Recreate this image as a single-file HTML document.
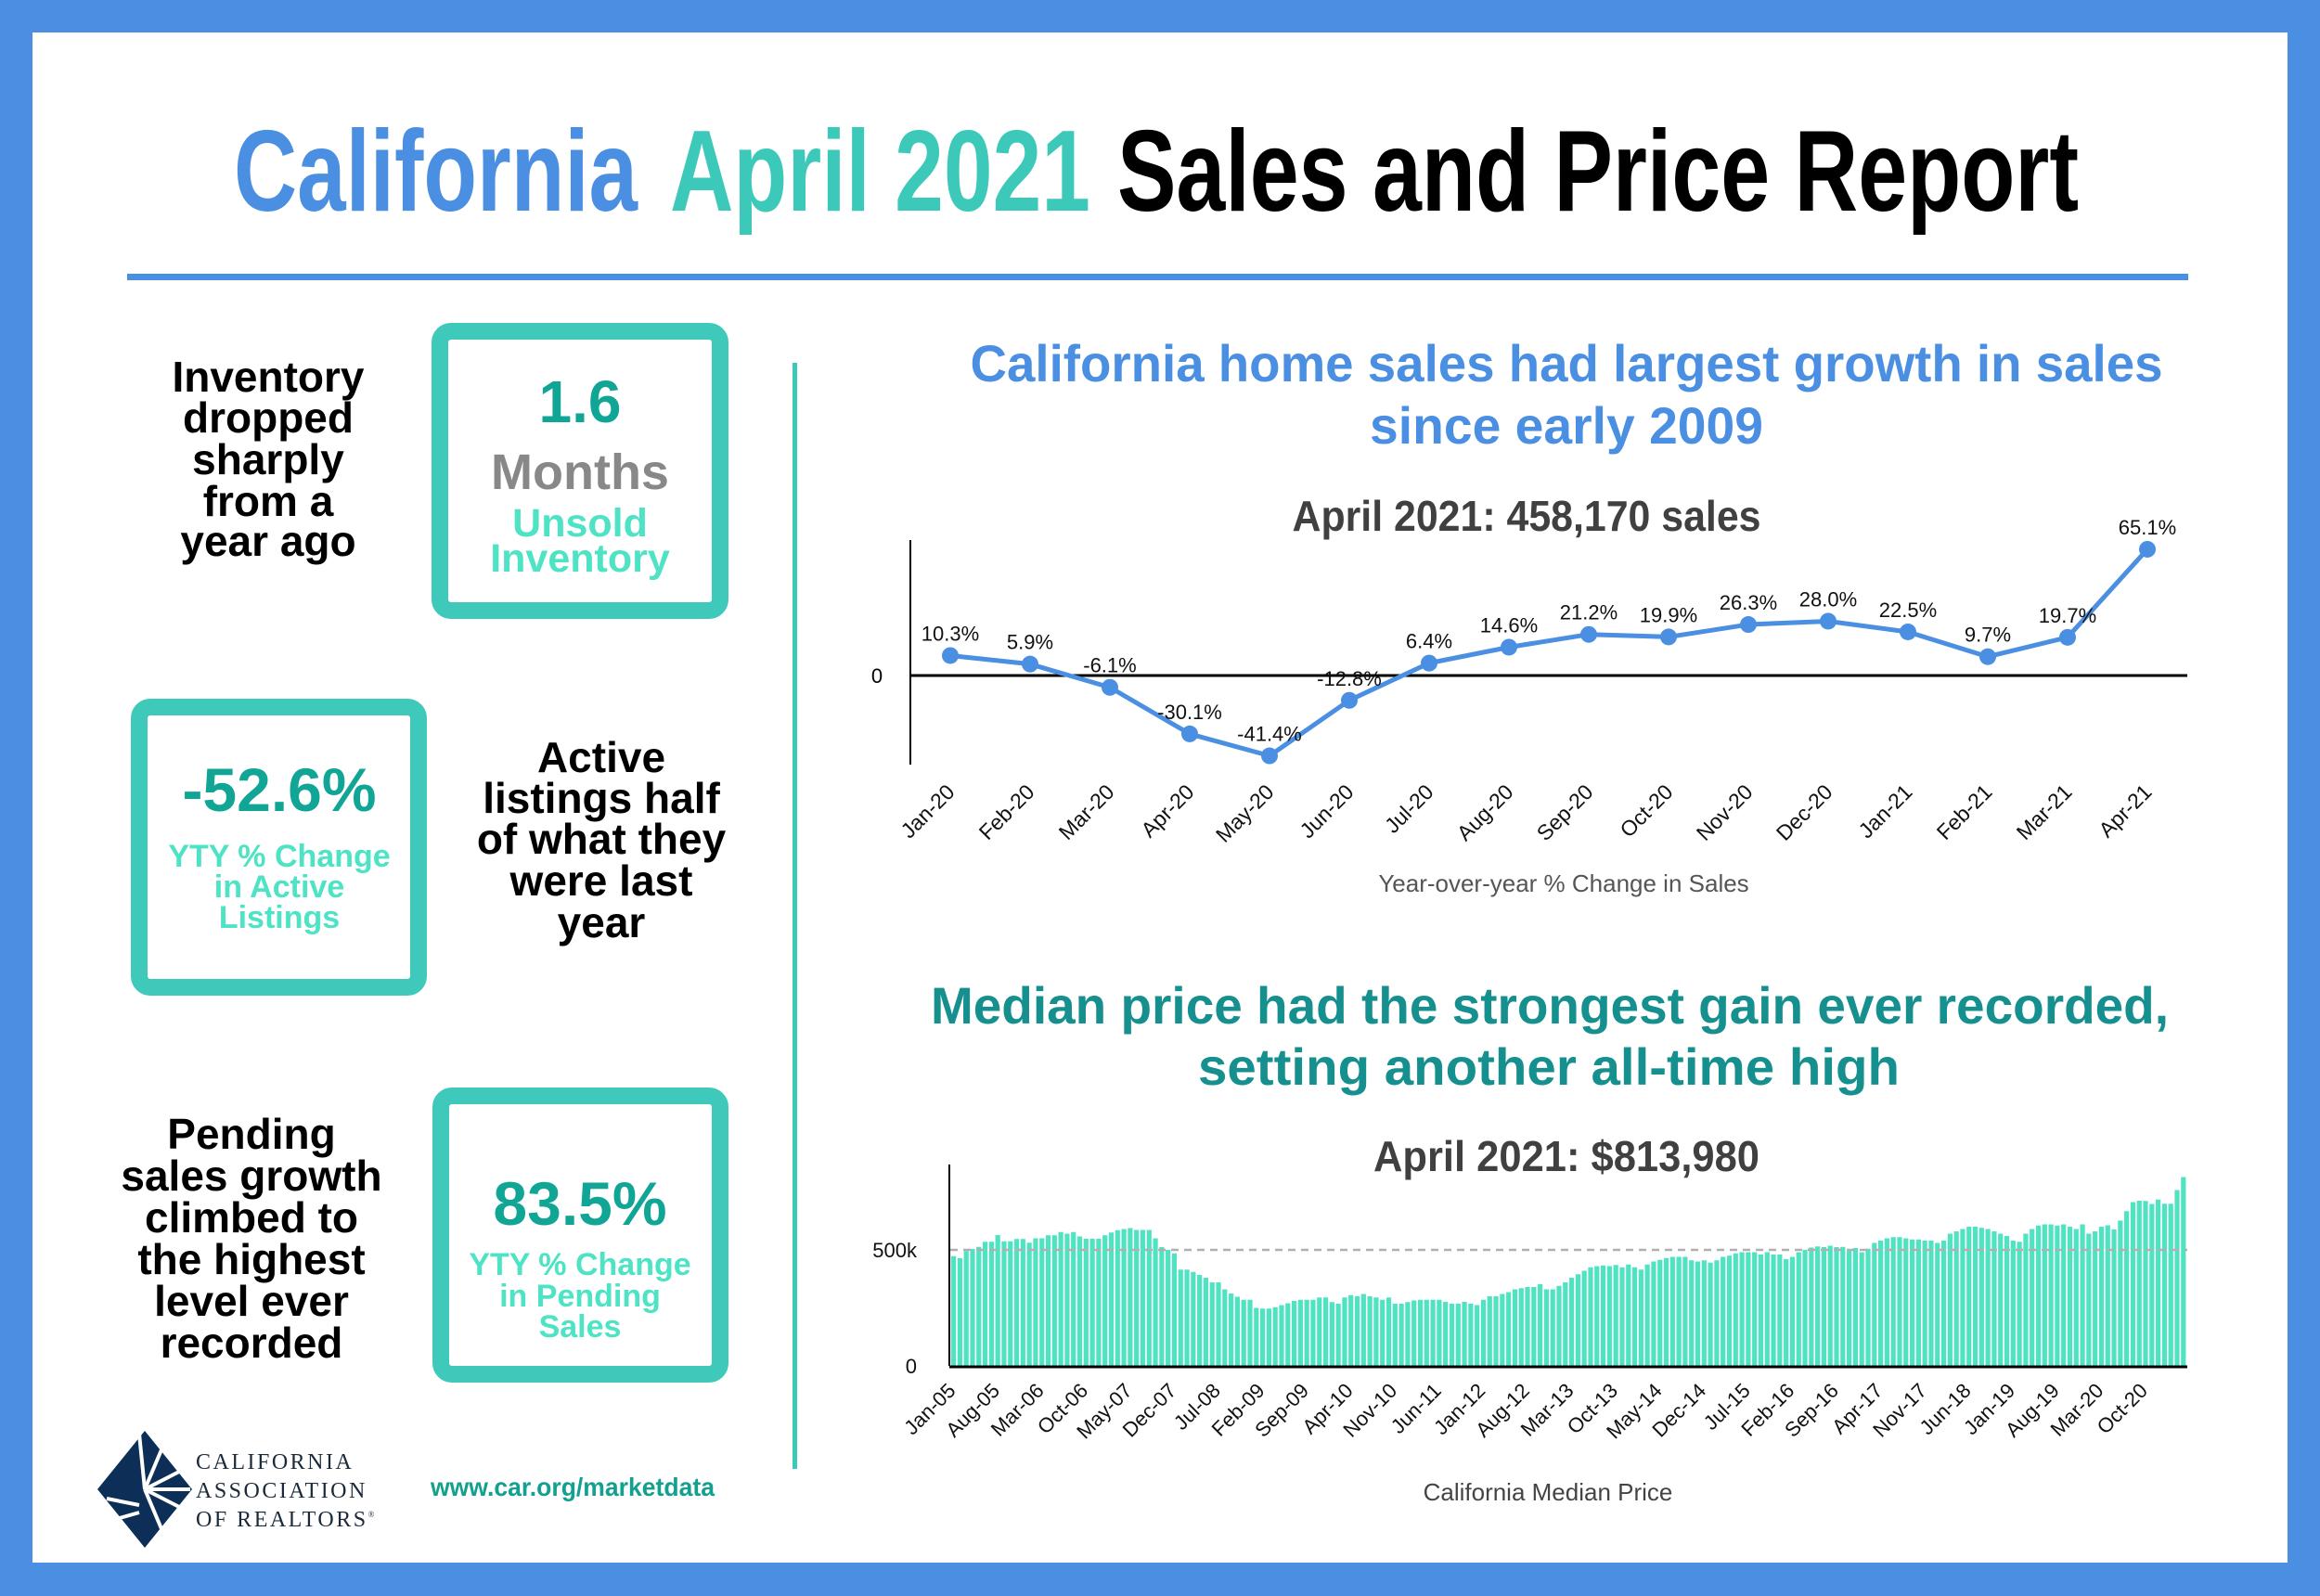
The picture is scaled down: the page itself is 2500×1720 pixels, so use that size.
<!DOCTYPE html>
<html><head><meta charset="utf-8"><style>
html,body{margin:0;padding:0;background:#fff}
svg{display:block}
text{font-family:"Liberation Sans",sans-serif}
</style></head><body>
<svg id="root" width="2500" height="1720" viewBox="0 0 2500 1720" xmlns="http://www.w3.org/2000/svg">
<rect x="0" y="0" width="2500" height="1720" fill="#4a8fe2"/>
<rect x="35" y="35" width="2430" height="1649" fill="#ffffff"/>

<g font-weight="bold" font-size="124">
<text x="252" y="227" textLength="435" lengthAdjust="spacingAndGlyphs" fill="#4a8fe2">California</text>
<text x="722" y="227" textLength="453" lengthAdjust="spacingAndGlyphs" fill="#3cc9b9">April 2021</text>
<text x="1204" y="227" textLength="1036" lengthAdjust="spacingAndGlyphs" fill="#000">Sales and Price Report</text>
</g>
<rect x="137" y="295" width="2221" height="7" fill="#4a8fe2"/>
<rect x="854" y="391" width="5" height="1192" fill="#3cc9b9"/>

<g font-weight="bold" text-anchor="middle">
<g font-size="46" fill="#000">
<text x="289" y="422">Inventory</text><text x="289" y="466">dropped</text><text x="289" y="511">sharply</text><text x="289" y="556">from a</text><text x="289" y="599">year ago</text>
</g>
<rect x="474" y="357" width="302" height="301" rx="12" fill="none" stroke="#3ec9bb" stroke-width="18"/>
<text x="625" y="455" font-size="64" fill="#10a595">1.6</text>
<text x="625" y="527" font-size="54" fill="#888888">Months</text>
<text x="625" y="578" font-size="43" fill="#4de3c4">Unsold</text>
<text x="625" y="616" font-size="43" fill="#4de3c4">Inventory</text>

<rect x="150" y="762" width="301" height="302" rx="12" fill="none" stroke="#3ec9bb" stroke-width="18"/>
<text x="301" y="874" font-size="66" fill="#10a595">-52.6%</text>
<g font-size="34" fill="#4de3c4">
<text x="301" y="934">YTY % Change</text><text x="301" y="967">in Active</text><text x="301" y="1000">Listings</text>
</g>
<g font-size="46" fill="#000">
<text x="648" y="832">Active</text><text x="648" y="876">listings half</text><text x="648" y="920">of what they</text><text x="648" y="965">were last</text><text x="648" y="1010">year</text>
</g>

<g font-size="46" fill="#000">
<text x="271" y="1238">Pending</text><text x="271" y="1283">sales growth</text><text x="271" y="1328">climbed to</text><text x="271" y="1373">the highest</text><text x="271" y="1418">level ever</text><text x="271" y="1463">recorded</text>
</g>
<rect x="475" y="1181" width="301" height="300" rx="12" fill="none" stroke="#3ec9bb" stroke-width="18"/>
<text x="625" y="1320" font-size="66" fill="#10a595">83.5%</text>
<g font-size="34" fill="#4de3c4">
<text x="625" y="1374">YTY % Change</text><text x="625" y="1408">in Pending</text><text x="625" y="1441">Sales</text>
</g>
</g>

<g>
<polygon points="156,1542 207,1605 156,1668 105,1605" fill="#0d2f57"/>
<g stroke="#fff" stroke-width="4">
<line x1="156" y1="1605" x2="150" y2="1545"/><line x1="156" y1="1605" x2="175" y2="1560"/><line x1="156" y1="1605" x2="195" y2="1585"/><line x1="156" y1="1605" x2="205" y2="1605"/><line x1="156" y1="1605" x2="195" y2="1625"/><line x1="156" y1="1605" x2="175" y2="1650"/>
<line x1="115" y1="1615" x2="150" y2="1622"/><line x1="122" y1="1638" x2="150" y2="1630"/>
</g>
<g style="font-family:'Liberation Serif',serif" font-size="24" fill="#1a2a3a" letter-spacing="2.5">
<text x="211" y="1583" style="font-family:'Liberation Serif',serif">CALIFORNIA</text><text x="211" y="1614" style="font-family:'Liberation Serif',serif">ASSOCIATION</text><text x="211" y="1645" style="font-family:'Liberation Serif',serif">OF REALTORS<tspan font-size="9" dy="-10">®</tspan></text>
</g>
</g>
<text x="617" y="1612" text-anchor="middle" font-weight="bold" font-size="28" fill="#13a08f" textLength="306" lengthAdjust="spacingAndGlyphs">www.car.org/marketdata</text>

<g font-weight="bold" text-anchor="middle">
<text x="1688" y="411" font-size="56" fill="#4a8fe2" textLength="1285" lengthAdjust="spacingAndGlyphs">California home sales had largest growth in sales</text>
<text x="1688" y="478" font-size="56" fill="#4a8fe2" textLength="424" lengthAdjust="spacingAndGlyphs">since early 2009</text>
<text x="1645" y="572" font-size="46" fill="#404040" textLength="505" lengthAdjust="spacingAndGlyphs">April 2021: 458,170 sales</text>
<text x="1670" y="1103" font-size="56" fill="#15908f" textLength="1334" lengthAdjust="spacingAndGlyphs">Median price had the strongest gain ever recorded,</text>
<text x="1669" y="1169" font-size="56" fill="#15908f" textLength="756" lengthAdjust="spacingAndGlyphs">setting another all-time high</text>
<text x="1688" y="1262" font-size="46" fill="#404040" textLength="416" lengthAdjust="spacingAndGlyphs">April 2021: $813,980</text>
</g>

<g id="salesChart"></g>
<g id="priceChart"></g>
</svg>
<script>
const salesMonths = ["Jan-20","Feb-20","Mar-20","Apr-20","May-20","Jun-20","Jul-20","Aug-20","Sep-20","Oct-20","Nov-20","Dec-20","Jan-21","Feb-21","Mar-21","Apr-21"];
const salesChange = [10.3,5.9,-6.1,-30.1,-41.4,-12.8,6.4,14.6,21.2,19.9,26.3,28.0,22.5,9.7,19.7,65.1];
const priceValues = [
473,464,495,504,513,535,535,564,537,537,547,547,
531,550,550,563,563,577,570,577,558,548,548,548,
563,575,585,590,594,586,586,586,550,512,500,485,
415,415,405,392,380,360,360,330,312,298,285,285,
250,247,247,253,262,270,280,285,285,285,295,295,
275,268,295,305,300,310,300,295,285,295,268,268,
275,282,285,285,285,285,276,268,268,276,268,262,
285,300,300,310,318,330,335,340,340,352,330,330,
345,360,380,395,410,425,430,433,430,435,425,437,
425,415,437,450,457,465,470,470,470,455,450,455,
445,455,470,475,485,490,490,490,480,490,480,480,
460,470,490,500,510,515,512,518,512,513,500,508,
490,505,530,540,550,555,555,550,545,545,540,540,
530,540,570,580,590,600,600,595,590,580,570,560,
540,535,570,590,605,610,610,605,610,600,590,610,
570,580,600,606,588,626,667,706,712,711,698,717,
699,699,758,814];
const priceTickLabels = ["Jan-05","Aug-05","Mar-06","Oct-06","May-07","Dec-07","Jul-08","Feb-09","Sep-09","Apr-10","Nov-10","Jun-11","Jan-12","Aug-12","Mar-13","Oct-13","May-14","Dec-14","Jul-15","Feb-16","Sep-16","Apr-17","Nov-17","Jun-18","Jan-19","Aug-19","Mar-20","Oct-20"];
const priceTickEvery = 7;
const priceYTicks = [0,500];
const priceYTickLabels = ["0","500k"];

const NS="http://www.w3.org/2000/svg";
function mk(tag,attrs,parent,txt){const e=document.createElementNS(NS,tag);for(const k in attrs)e.setAttribute(k,attrs[k]);if(txt!==undefined)e.textContent=txt;parent.appendChild(e);return e;}

(function(){
const g=document.getElementById('salesChart');
const x0=1024, step=86, yZero=728, perPct=2.09;
const sx=i=>x0+i*step, sy=v=>yZero-v*perPct;
const yAxis=mk('line',{x1:981,y1:582,x2:981,y2:824,stroke:'#000','stroke-width':2},g);


const zl=mk('line',{x1:981,y1:yZero,x2:2357,y2:yZero,stroke:'#000','stroke-width':3},g);


const z=mk('text',{x:945,y:yZero+8,'font-size':22,'text-anchor':'middle',fill:'#000'},g,'0');


const pts=salesChange.map((v,i)=>sx(i)+','+sy(v)).join(' ');
const pl=mk('polyline',{points:pts,fill:'none',stroke:'#4a8fe2','stroke-width':5,'stroke-linejoin':'round'},g);


salesChange.forEach((v,i)=>{
 const c=mk('circle',{cx:sx(i),cy:sy(v),r:9,fill:'#4a8fe2'},g);
 
 
 const t=mk('text',{x:sx(i),y:sy(v)-16,'font-size':22,'text-anchor':'middle',fill:'#111'},g,v.toFixed(1)+'%');
 
 
 const xl=mk('text',{x:sx(i)+6,y:855,'font-size':23,'text-anchor':'end',fill:'#111',transform:'rotate(-45 '+(sx(i)+6)+' 855)'},g,salesMonths[i]);
 
 
});
const at=mk('text',{x:1685,y:961,'font-size':26,'text-anchor':'middle',fill:'#555'},g,'Year-over-year % Change in Sales');


})();

(function(){
const g=document.getElementById('priceChart');
const base=1472, per500=125, x0=1025, slot=(2357-1025)/priceValues.length, bw=slot-1.6;
const py=v=>base-v*per500/500, px=i=>x0+i*slot;
priceValues.forEach((v,i)=>{
 const r=mk('rect',{x:px(i),y:py(v),width:bw,height:base-py(v),fill:'#50e3c2'},g);
 
 
});
const dl=mk('line',{x1:1024,y1:py(500),x2:2357,y2:py(500),stroke:'#b0b0b0','stroke-width':2.5,'stroke-dasharray':'8 6'},g);


const ya=mk('line',{x1:1023,y1:1255,x2:1023,y2:base,stroke:'#000','stroke-width':2},g);


const xa=mk('line',{x1:1023,y1:base+1,x2:2357,y2:base+1,stroke:'#000','stroke-width':3},g);


priceYTicks.forEach((v,i)=>{
 const t=mk('text',{x:988,y:py(v)+8,'font-size':22,'text-anchor':'end',fill:'#111'},g,priceYTickLabels[i]);
 
 
});
priceTickLabels.forEach((lab,k)=>{
 const xx=px(k*priceTickEvery)+6;
 const t=mk('text',{x:xx,y:1500,'font-size':22,'text-anchor':'end',fill:'#111',transform:'rotate(-45 '+xx+' 1500)'},g,lab);
 
 
});
const at=mk('text',{x:1668,y:1617,'font-size':26,'text-anchor':'middle',fill:'#444'},g,'California Median Price');


})();
</script>
</body></html>
